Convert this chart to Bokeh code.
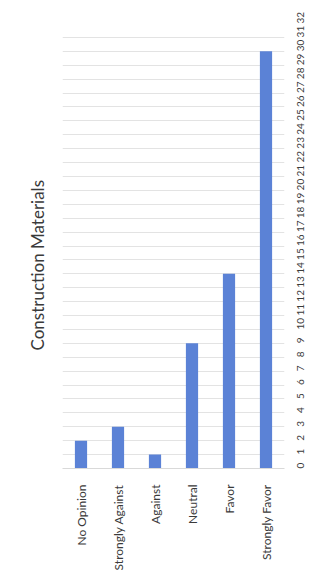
import math
from bokeh.plotting import figure
from bokeh.models import FixedTicker, LinearAxis, Range1d
from bokeh.embed import file_html
from bokeh.resources import INLINE

categories = ["No Opinion", "Strongly Against", "Against", "Neutral", "Favor", "Strongly Favor"]
counts = [2, 3, 1, 9, 14, 30]
value_ticks = list(range(0, 33))
title_text = "Construction Materials"

p = figure(x_range=categories, y_range=Range1d(0, 32), width=310, height=573,
           output_backend="svg", toolbar_location=None, title=title_text,
           title_location="left",
           min_border_left=62, min_border_right=0, min_border_top=23, min_border_bottom=10)
p.title.text_font = "Lato"
p.title.text_font_size = "17px"
p.title.text_font_style = "normal"
p.title.text_color = "#3a3a3a"
p.title.align = "left"
p.title.offset = 118
p.title.standoff = 29
p.vbar(x=categories, top=counts, width=0.33, color="#5b82d6", line_color=None)

p.yaxis.visible = False
ax = LinearAxis(ticker=FixedTicker(ticks=value_ticks))
ax.axis_line_color = None
ax.major_tick_line_color = None
ax.minor_tick_line_color = None
ax.major_label_orientation = math.pi / 2
ax.major_label_text_font = "Lato"
ax.major_label_text_font_size = "10px"
ax.major_label_text_color = "#3a3a3a"
ax.major_label_standoff = 10
p.add_layout(ax, "right")

p.ygrid.ticker = FixedTicker(ticks=value_ticks)
p.ygrid.grid_line_color = "#e3e3e3"
p.xgrid.grid_line_color = None
p.outline_line_color = None

p.xaxis.axis_line_color = "#d9d9d9"
p.xaxis.major_tick_line_color = None
p.xaxis.major_label_orientation = math.pi / 2
p.xaxis.major_label_text_font = "Lato"
p.xaxis.major_label_text_font_size = "12px"
p.xaxis.major_label_text_color = "#3a3a3a"
p.xaxis.major_label_standoff = 10

open("out.html", "w").write(file_html(p, INLINE))
